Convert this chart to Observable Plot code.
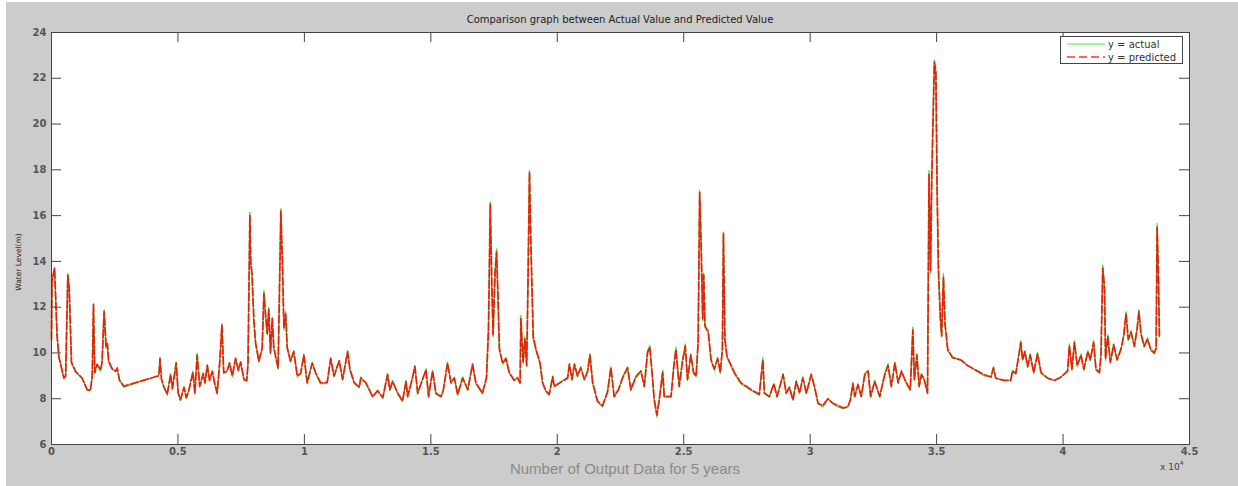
<!DOCTYPE html>
<html><head><meta charset="utf-8">
<script src="https://cdn.jsdelivr.net/npm/d3@7"></script>
<script src="https://cdn.jsdelivr.net/npm/@observablehq/plot@0.6"></script>
<style>
html,body{margin:0;padding:0;background:#fff;width:1238px;height:486px;overflow:hidden;}
#bg{position:absolute;left:6px;top:2px;width:1232px;height:484px;background:#cccccc;}
#chart{position:absolute;left:0;top:0;}
.lbl{position:absolute;white-space:nowrap;line-height:1;font-family:"DejaVu Sans",sans-serif;color:#222;}
#legend{position:absolute;left:1060px;top:36px;}
</style></head><body>
<div id="bg"></div>
<div id="chart"></div>
<div class="lbl" style="left:620px;top:15px;transform:translateX(-50%);font-size:10px;">Comparison graph between Actual Value and Predicted Value</div>
<div class="lbl" style="left:19px;top:262px;transform:translate(-50%,-50%) rotate(-90deg);font-size:7.5px;">Water Level(m)</div>
<div class="lbl" style="left:625px;top:461px;transform:translateX(-50%);font-size:15px;font-family:'Liberation Sans',Arial,sans-serif;color:#8a8a8a;">Number of Output Data for 5 years</div>
<div class="lbl" style="left:1160px;top:463px;font-size:9px;color:#444;">x 10<span style="font-size:6px;position:relative;top:-5px;">4</span></div>
<svg id="legend" width="124" height="29">
  <rect x="0.5" y="0.5" width="122" height="27" fill="white" stroke="#444"/>
  <line x1="7" x2="45" y1="8" y2="8" stroke="#44ee44" stroke-width="1.2"/>
  <line x1="7" x2="45" y1="21" y2="21" stroke="#ff3030" stroke-width="1.6" stroke-dasharray="8,4"/>
  <text x="48" y="11.5" font-family="DejaVu Sans" font-size="10" fill="#333">y = actual</text>
  <text x="48" y="24.5" font-family="DejaVu Sans" font-size="10" fill="#333">y = predicted</text>
</svg>
<script>
// sample number (output data index)
const sampleIndex = [
0,20,120,220,290,490,560,645,700,790,
950,1210,1410,1540,1610,1660,1710,1800,1940,2000,
2080,2160,2210,2260,2400,2530,2600,2690,2860,4245,
4290,4350,4450,4575,4710,4780,4930,5010,5100,5240,
5330,5440,5590,5670,5760,5860,6000,6070,6160,6250,
6360,6450,6550,6650,6740,6810,6940,7040,7150,7280,
7390,7480,7610,7720,7770,7845,7880,7930,8000,8070,
8200,8330,8400,8460,8530,8590,8660,8730,8790,8960,
9070,9130,9190,9260,9320,9450,9580,9720,9850,9980,
10110,10310,10440,10640,10900,11040,11170,11380,11510,11710,
11800,11970,12170,12230,12430,12700,12900,13100,13290,13380,
13490,13690,13880,14020,14080,14250,14370,14480,14610,14810,
14910,15070,15200,15400,15490,15660,15800,15930,16060,16260,
16460,16650,16780,17040,17200,17280,17350,17410,17460,17540,
17600,17660,17710,17840,17970,18100,18300,18430,18530,18560,
18650,18720,18790,18840,18900,18960,19050,19160,19320,19420,
19550,19680,19820,19880,20410,20480,20580,20680,20800,20930,
21070,21200,21290,21400,21590,21790,21990,22120,22250,22420,
22580,22780,22910,23110,23310,23440,23570,23660,23770,23830,
23940,24030,24170,24230,24500,24600,24690,24820,24950,25060,
25150,25280,25390,25490,25570,25630,25690,25750,25790,25840,
25970,26080,26210,26340,26450,26530,26570,26630,26710,27000,
27260,27660,27990,28130,28190,28390,28560,28690,28930,29050,
29180,29320,29450,29580,29710,29850,30040,30170,30310,30500,
30700,30900,31100,31300,31490,31590,31690,31760,31890,32020,
32160,32290,32390,32550,32750,32950,33080,33210,33350,33480,
33610,33740,33880,33960,34060,34120,34220,34310,34400,34510,
34640,34700,34760,34810,34910,34970,35020,35070,35150,35200,
35270,35330,35440,35630,35960,36220,36550,36880,37150,37250,
37340,37670,37930,38000,38130,38230,38330,38400,38490,38600,
38700,38840,38990,39130,39390,39660,39920,40180,40250,40350,
40450,40560,40710,40820,40980,41080,41210,41300,41440,41500,
41570,41640,41680,41770,41870,42000,42140,42300,42400,42490,
42580,42690,42820,42930,43000,43080,43210,43340,43470,43610,
43680,43720,43770,43810
];
// y = actual (water level, m)
const actual = [
10.7,13.2,13.7,10.7,9.8,8.9,8.95,13.46,12.9,9.53,
9.17,8.9,8.37,8.37,8.95,12.15,9.1,9.5,9.2,9.6,
11.89,10.2,10.4,9.6,9.3,9.2,9.3,8.8,8.51,9.02,
9.8,8.8,8.5,8.15,9.1,8.4,9.6,8.2,7.93,8.5,
8.0,8.4,9.2,8.2,9.97,8.5,9.1,8.65,9.5,8.8,
9.2,8.65,8.2,9.6,11.28,9.1,9.2,9.6,8.95,9.8,
9.2,9.6,8.8,8.75,9.6,16.15,13.9,13.46,11.4,10.4,
9.6,10.2,12.73,11.7,10.8,12.0,9.95,11.55,10.2,9.3,
16.3,13.9,11.0,11.8,10.2,9.6,10.1,8.95,9.1,9.95,
8.65,9.6,9.1,8.65,8.7,9.8,8.95,9.68,8.8,10.1,
9.24,8.66,8.5,8.95,8.66,8.07,8.36,8.0,9.1,8.36,
8.8,8.2,7.86,8.8,8.07,8.8,9.46,8.2,8.66,9.31,
8.07,9.24,8.2,8.07,8.36,9.6,8.66,8.95,8.14,8.95,
8.36,9.53,8.66,8.2,8.95,11.13,16.59,13.03,10.7,13.6,
14.55,12.2,10.1,9.5,9.8,9.1,8.8,8.95,8.66,11.64,
9.53,10.7,9.4,13.03,17.97,14.5,10.6,10.1,9.53,8.66,
8.3,8.14,9.0,8.5,8.95,9.53,8.8,9.53,8.95,9.4,
8.8,9.24,9.97,8.66,7.86,7.64,8.36,9.4,8.07,8.36,
8.95,9.39,8.36,9.0,9.24,8.5,10.1,10.33,8.8,7.93,
7.2,7.93,9.24,8.07,8.07,9.39,10.25,8.5,9.68,10.4,
8.8,9.97,9.1,8.95,10.54,17.1,14.6,11.4,13.5,11.1,
10.97,9.68,9.24,9.8,9.1,10.25,15.28,10.54,9.8,9.1,
8.66,8.36,8.14,9.8,8.22,8.07,8.66,8.07,9.1,8.22,
8.5,7.93,8.8,8.22,8.95,8.22,9.1,8.5,7.78,7.64,
8.0,7.78,7.64,7.57,7.64,7.93,8.72,8.07,8.66,8.07,
9.1,9.24,8.07,8.8,8.07,9.1,9.53,8.5,9.6,8.66,
9.24,8.8,8.5,8.36,11.13,8.8,9.97,8.5,9.1,8.8,
8.22,17.97,13.46,17.83,22.78,22.2,17.1,13.6,11.4,10.7,
13.46,11.26,10.1,9.8,9.68,9.46,9.24,9.0,8.95,9.39,
8.88,8.8,8.8,9.24,9.1,9.8,10.54,9.68,10.1,9.39,
9.97,9.1,10.03,9.1,8.88,8.8,8.95,9.24,10.4,9.24,
10.54,9.39,9.97,9.24,10.1,9.68,10.54,9.24,9.1,9.97,
13.83,12.9,9.68,10.8,9.53,10.4,9.68,10.25,10.8,11.8,
10.54,10.97,10.25,11.13,11.9,10.8,10.25,10.68,10.1,9.97,
10.25,15.65,13.46,10.7
];
// y = predicted (water level, m)
const predicted = [
10.6,13.1,13.7,10.8,9.85,8.9,9.0,13.4,12.8,9.6,
9.2,8.9,8.4,8.35,9.0,12.1,9.15,9.5,9.25,9.6,
11.8,10.25,10.4,9.65,9.3,9.2,9.35,8.8,8.55,9.0,
9.75,8.85,8.5,8.2,9.05,8.45,9.55,8.25,7.95,8.5,
8.05,8.4,9.15,8.25,9.9,8.55,9.1,8.7,9.45,8.8,
9.2,8.7,8.25,9.55,11.2,9.15,9.2,9.55,9.0,9.75,
9.25,9.6,8.85,8.8,9.5,16.0,14.0,13.4,11.5,10.45,
9.65,10.2,12.6,11.75,10.85,11.9,10.0,11.5,10.25,9.35,
16.2,14.0,11.1,11.7,10.25,9.65,10.05,9.0,9.1,9.9,
8.7,9.55,9.15,8.7,8.7,9.75,9.0,9.65,8.85,10.05,
9.3,8.7,8.5,8.9,8.7,8.1,8.35,8.05,9.05,8.4,
8.75,8.25,7.9,8.75,8.1,8.8,9.4,8.25,8.65,9.25,
8.1,9.2,8.25,8.1,8.35,9.55,8.7,8.9,8.2,8.9,
8.4,9.5,8.7,8.25,8.9,11.0,16.5,13.1,10.8,13.5,
14.4,12.3,10.2,9.55,9.75,9.15,8.8,8.9,8.7,11.5,
9.6,10.6,9.45,12.9,17.9,14.6,10.7,10.15,9.55,8.7,
8.35,8.2,8.95,8.55,8.9,9.5,8.85,9.5,9.0,9.35,
8.85,9.2,9.9,8.7,7.9,7.7,8.3,9.35,8.1,8.4,
8.9,9.35,8.4,8.95,9.2,8.55,10.0,10.25,8.85,8.0,
7.3,7.95,9.15,8.1,8.1,9.3,10.15,8.55,9.6,10.3,
8.85,9.9,9.15,9.0,10.45,17.0,14.7,11.5,13.4,11.2,
10.9,9.7,9.3,9.75,9.15,10.2,15.2,10.6,9.85,9.15,
8.7,8.4,8.2,9.7,8.25,8.1,8.65,8.1,9.05,8.25,
8.5,7.95,8.75,8.25,8.9,8.25,9.05,8.55,7.8,7.7,
8.0,7.8,7.7,7.6,7.65,7.95,8.65,8.1,8.6,8.1,
9.05,9.2,8.1,8.75,8.1,9.05,9.45,8.55,9.55,8.7,
9.2,8.85,8.55,8.4,11.0,8.85,9.9,8.55,9.05,8.85,
8.25,17.8,13.6,17.7,22.7,22.3,17.2,13.7,11.5,10.75,
13.3,11.3,10.15,9.8,9.7,9.45,9.25,9.05,8.95,9.35,
8.9,8.8,8.8,9.2,9.1,9.75,10.45,9.7,10.05,9.4,
9.9,9.15,9.95,9.15,8.9,8.8,8.95,9.2,10.3,9.3,
10.45,9.45,9.9,9.3,10.05,9.7,10.45,9.3,9.15,9.9,
13.7,12.8,9.75,10.7,9.6,10.35,9.7,10.2,10.75,11.7,
10.6,10.9,10.3,11.05,11.8,10.85,10.3,10.6,10.15,10.0,
10.2,15.5,13.4,10.75
];
const xTicks = [0,5000,10000,15000,20000,25000,30000,35000,40000,45000];
const xTickLabels = ["0","0.5","1","1.5","2","2.5","3","3.5","4","4.5"];
const yTicks = [6,8,10,12,14,16,18,20,22,24];

const n = Math.min(sampleIndex.length, actual.length, predicted.length);
const data = [];
for (let i = 0; i < n; i++) data.push({x: sampleIndex[i], actual: actual[i], predicted: predicted[i]});

const axisColor = "#444";
const chart = Plot.plot({
  width: 1238, height: 486,
  marginLeft: 51, marginRight: 49, marginTop: 32, marginBottom: 42,
  style: {background: "transparent", color: "#555", fontFamily: "DejaVu Sans, sans-serif", fontSize: "10px"},
  x: {domain: [0, 45000]},
  y: {domain: [6, 24]},
  marks: [
    Plot.frame({fill: "white", stroke: "none"}),
    Plot.line(data, {x: "x", y: "actual", stroke: "#3ce83c", strokeWidth: 1.3}),
    Plot.line(data, {x: "x", y: "predicted", stroke: "#ff0000", strokeWidth: 1.8, strokeDasharray: "8,2.5", strokeOpacity: 0.85}),
    Plot.frame({stroke: axisColor}),
    Plot.ruleX(xTicks, {x: d => d, y1: 6, y2: 6, insetTop: -10, stroke: axisColor}),
    Plot.ruleX(xTicks, {x: d => d, y1: 24, y2: 24, insetBottom: -10, stroke: axisColor}),
    Plot.ruleY(yTicks, {y: d => d, x1: 0, x2: 0, insetRight: -10, stroke: axisColor}),
    Plot.ruleY(yTicks, {y: d => d, x1: 45000, x2: 45000, insetLeft: -10, stroke: axisColor}),
    Plot.axisX(xTicks, {tickSize: 0, tickPadding: 3, label: null, tickFormat: d => xTickLabels[xTicks.indexOf(d)], fill: "#555", fontWeight: "bold"}),
    Plot.axisY(yTicks, {tickSize: 0, tickPadding: 5, label: null, fill: "#555", fontWeight: "bold"})
  ]
});
document.getElementById("chart").appendChild(chart);
</script>
</body></html>
